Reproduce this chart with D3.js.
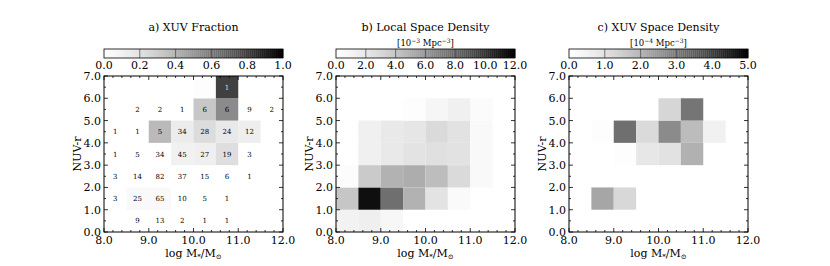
<!DOCTYPE html>
<html>
<head>
<meta charset="utf-8">
<script src="https://cdn.jsdelivr.net/npm/d3@7"></script>
<style>
  body { margin: 0; background: #fff; }
  svg text { font-family: "DejaVu Serif", serif; fill: #000; }
</style>
</head>
<body>
<svg id="chart" width="830" height="266"></svg>
<script>
// bins: log stellar mass (left edges) and NUV-r (lower edges)
var massBins = [8.0, 8.5, 9.0, 9.5, 10.0, 10.5, 11.0, 11.5];
var colourBins = [0, 1, 2, 3, 4, 5, 6];

// rows go from NUV-r 0-1 (first) up to 6-7 (last)
var xuvFraction = [
  [0, 0, 0, 0, 0, 0, 0, 0],
  [0, 0.05, 0.05, 0, 0, 0, 0, 0],
  [0, 0, 0, 0, 0, 0, 0, 0],
  [0, 0, 0, 0.11, 0.12, 0.22, 0, 0],
  [0, 0, 0.38, 0.14, 0.23, 0.16, 0.13, 0],
  [0, 0, 0, 0, 0.33, 0.54, 0, 0],
  [0, 0, 0, 0, 0.02, 0.8, 0, 0]
];
var galaxyCounts = [
  [null, 9, 13, 2, 1, 1, null, null],
  [3, 25, 65, 10, 5, 1, null, null],
  [3, 14, 82, 37, 15, 6, 1, null],
  [1, 5, 34, 45, 27, 19, 3, null],
  [1, 1, 5, 34, 28, 24, 12, null],
  [null, 2, 2, 1, 6, 6, 9, 2],
  [null, null, null, null, null, 1, null, null]
];
// 10^-3 Mpc^-3
var localDensity = [
  [1.2, 1.5, 0.8, 0, 0, 0, 0, 0],
  [4.0, 11.4, 7.7, 4.9, 2.3, 0.5, 0, 0],
  [0.3, 3.8, 4.9, 5.1, 4.4, 2.9, 0.6, 0],
  [0, 1.4, 1.9, 2.3, 2.5, 2.4, 0.6, 0],
  [0, 1.4, 1.9, 2.1, 2.9, 2.4, 0.6, 0],
  [0, 0, 0, 0.2, 0.9, 1.4, 0.4, 0],
  [0, 0, 0, 0, 0, 0, 0, 0]
];
// 10^-4 Mpc^-3
var xuvDensity = [
  [0, 0, 0, 0, 0, 0, 0, 0],
  [0, 2.25, 1.25, 0, 0, 0, 0, 0],
  [0, 0, 0, 0, 0, 0, 0, 0],
  [0, 0, 0.1, 0.85, 1.0, 2.05, 0, 0],
  [0, 0.1, 3.2, 1.2, 2.7, 1.85, 0.55, 0],
  [0, 0, 0, 0, 1.3, 3.1, 0, 0],
  [0, 0, 0, 0, 0, 0, 0, 0]
];

var xTicks = [8, 9, 10, 11, 12];
var yTicks = [0, 1, 2, 3, 4, 5, 6, 7];
var fractionTicks = [0, 0.2, 0.4, 0.6, 0.8, 1.0];
var localTicks = [0, 2, 4, 6, 8, 10, 12];
var xuvTicks = [0, 1, 2, 3, 4, 5];

var panels = [
  { left: 104, title: "a) XUV Fraction", unitExp: null, grid: xuvFraction, vmax: 1, cbTicks: fractionTicks, counts: galaxyCounts },
  { left: 336, title: "b) Local Space Density", unitExp: "\u22123", grid: localDensity, vmax: 12, cbTicks: localTicks, counts: null },
  { left: 569, title: "c) XUV Space Density", unitExp: "\u22124", grid: xuvDensity, vmax: 5, cbTicks: xuvTicks, counts: null }
];

var svg = d3.select("#chart");
var W = 179, plotTop = 76, plotBottom = 232;
var fmt = d3.format(".1f");

panels.forEach(function(p) {
  var g = svg.append("g");
  var x = d3.scaleLinear().domain([8, 12]).range([p.left, p.left + W]);
  var y = d3.scaleLinear().domain([0, 7]).range([plotBottom, plotTop]);
  var cx = p.left + W / 2;

  // title + units
  g.append("text").attr("x", cx).attr("y", 31).attr("text-anchor", "middle")
    .style("font-size", "11px").text(p.title);
  if (p.unitExp) {
    var u = g.append("text").attr("x", cx).attr("y", 46).attr("text-anchor", "middle")
      .style("font-size", "8.5px");
    u.append("tspan").text("[10");
    u.append("tspan").attr("dy", -3.5).style("font-size", "6px").text(p.unitExp);
    u.append("tspan").attr("dy", 3.5).text("  Mpc");
    u.append("tspan").attr("dy", -3.5).style("font-size", "6px").text("\u22123");
    u.append("tspan").attr("dy", 3.5).text("]");
  }

  // colorbar
  var cb = d3.scaleLinear().domain([0, p.vmax]).range([p.left, p.left + W]);
  var nSteps = 90;
  var steps = d3.range(nSteps);
  g.selectAll(".cbstep").data(steps).enter().append("rect")
    .attr("x", function(i) { return cb(p.vmax * i / nSteps); })
    .attr("y", 49)
    .attr("width", W / nSteps + 0.3)
    .attr("height", 9)
    .attr("fill", function(i) { return d3.interpolateGreys((i + 0.5) / nSteps); });
  g.selectAll(".cbtick").data(p.cbTicks.slice(1, -1)).enter().append("line")
    .attr("x1", function(d) { return cb(d); }).attr("x2", function(d) { return cb(d); })
    .attr("y1", 49).attr("y2", 58)
    .attr("stroke", "#444").attr("stroke-width", 0.7);
  g.append("rect").attr("x", p.left).attr("y", 49).attr("width", W).attr("height", 9)
    .attr("fill", "none").attr("stroke", "#000").attr("stroke-width", 0.8);
  g.selectAll(".cblabel").data(p.cbTicks).enter().append("text")
    .attr("x", function(d) { return cb(d); }).attr("y", 69)
    .attr("text-anchor", "middle").style("font-size", "11px")
    .text(function(d) { return fmt(d); });

  // cells
  var cells = [];
  p.grid.forEach(function(row, r) {
    row.forEach(function(v, c) {
      cells.push({ m: massBins[c], col: colourBins[r], v: v, n: p.counts ? p.counts[r][c] : null });
    });
  });
  g.selectAll(".cell").data(cells.filter(function(d) { return d.v > 0; })).enter().append("rect")
    .attr("x", function(d) { return x(d.m); })
    .attr("y", function(d) { return y(d.col + 1); })
    .attr("width", function(d) { return x(d.m + 0.5) - x(d.m); })
    .attr("height", function(d) { return y(d.col) - y(d.col + 1); })
    .attr("fill", function(d) { return d3.interpolateGreys(d.v / p.vmax); });

  if (p.counts) {
    g.selectAll(".count").data(cells.filter(function(d) { return d.n !== null; })).enter().append("text")
      .attr("x", function(d) { return x(d.m + 0.25); })
      .attr("y", function(d) { return y(d.col + 0.5) + 2.5; })
      .attr("text-anchor", "middle")
      .style("font-size", "7px")
      .style("fill", function(d) { return d.v / p.vmax > 0.7 ? "#ddd" : "#000"; })
      .text(function(d) { return d.n; });
  }

  // frame and inward ticks
  g.append("rect").attr("x", p.left).attr("y", plotTop).attr("width", W).attr("height", plotBottom - plotTop)
    .attr("fill", "none").attr("stroke", "#000").attr("stroke-width", 1);

  var xMinor = d3.range(8, 12.001, 0.2);
  var yMinor = d3.range(0, 7.001, 0.5);
  var tickG = g.append("g").attr("stroke", "#000").attr("stroke-width", 0.8);
  xMinor.forEach(function(t) {
    var len = xTicks.indexOf(Math.round(t * 10) / 10) >= 0 ? 4 : 2;
    tickG.append("line").attr("x1", x(t)).attr("x2", x(t)).attr("y1", plotBottom).attr("y2", plotBottom - len);
    tickG.append("line").attr("x1", x(t)).attr("x2", x(t)).attr("y1", plotTop).attr("y2", plotTop + len);
  });
  yMinor.forEach(function(t) {
    var len = yTicks.indexOf(t) >= 0 ? 4 : 2;
    tickG.append("line").attr("y1", y(t)).attr("y2", y(t)).attr("x1", p.left).attr("x2", p.left + len);
    tickG.append("line").attr("y1", y(t)).attr("y2", y(t)).attr("x1", p.left + W).attr("x2", p.left + W - len);
  });

  g.selectAll(".xl").data(xTicks).enter().append("text")
    .attr("x", function(d) { return x(d); }).attr("y", plotBottom + 12)
    .attr("text-anchor", "middle").style("font-size", "11px")
    .text(function(d) { return fmt(d); });
  g.selectAll(".yl").data(yTicks).enter().append("text")
    .attr("x", p.left - 3).attr("y", function(d) { return y(d) + 4; })
    .attr("text-anchor", "end").style("font-size", "11px")
    .text(function(d) { return fmt(d); });

  // axis labels
  var xl = g.append("text").attr("x", cx).attr("y", 257).attr("text-anchor", "middle")
    .style("font-size", "11px");
  xl.append("tspan").text("log M");
  xl.append("tspan").attr("dy", 2).style("font-size", "7px").text("*");
  xl.append("tspan").attr("dy", -2).text("/M");
  xl.append("tspan").attr("dy", 2).style("font-size", "7px").text("\u2299");
  g.append("text")
    .attr("transform", "translate(" + (p.left - 23) + "," + ((plotTop + plotBottom) / 2) + ") rotate(-90)")
    .attr("text-anchor", "middle").style("font-size", "11px")
    .text("NUV-r");
});
</script>
</body>
</html>
